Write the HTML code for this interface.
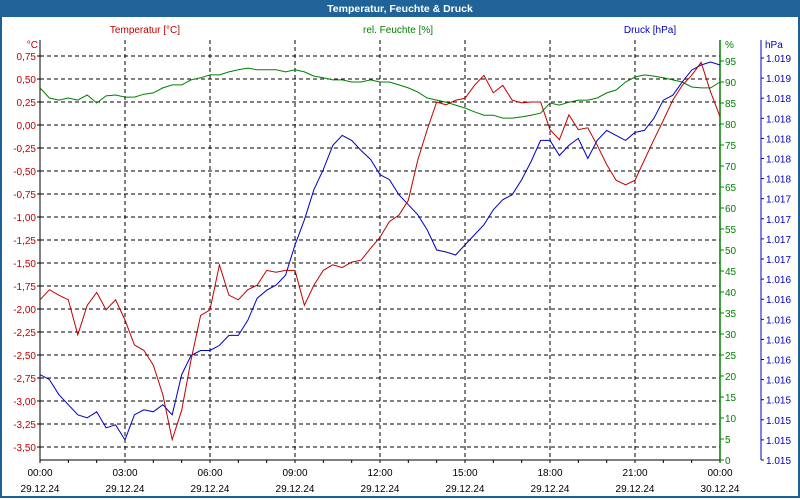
<!DOCTYPE html>
<html><head><meta charset="utf-8"><style>
body{margin:0;width:800px;height:500px;overflow:hidden;background:#fff;font-family:"Liberation Sans",sans-serif}
#frame{position:absolute;left:0;top:0;width:796px;height:496px;border:2px solid #1f5f94;border-top:none}
</style></head><body>
<div id="frame"></div>
<svg id="c" width="800" height="500" style="position:absolute;left:0;top:0" font-family="Liberation Sans, sans-serif" font-size="10">
<rect x="0" y="0" width="800" height="17" fill="#1f6399"/>
<text x="400" y="12" fill="#fff" font-weight="bold" font-size="10.5" text-anchor="middle">Temperatur, Feuchte &amp; Druck</text>
<text x="145" y="33" fill="#c00000" text-anchor="middle">Temperatur [°C]</text>
<text x="398" y="33" fill="#008000" text-anchor="middle">rel. Feuchte [%]</text>
<text x="650" y="33" fill="#0000c0" text-anchor="middle">Druck [hPa]</text>
<text x="38" y="48" fill="#c00000" text-anchor="end">°C</text>
<text x="725" y="48" fill="#008000">%</text>
<text x="765" y="48" fill="#0000c0">hPa</text>
</svg>
<script>
const hours=[];for(let i=0;i<=72;i++)hours.push(i/3);
const tempC=[-1.90,-1.79,-1.85,-1.90,-2.28,-1.96,-1.82,-2.01,-1.90,-2.12,-2.39,-2.45,-2.61,-2.93,-3.42,-3.10,-2.55,-2.07,-2.01,-1.52,-1.85,-1.90,-1.79,-1.74,-1.58,-1.60,-1.58,-1.58,-1.96,-1.74,-1.58,-1.52,-1.55,-1.49,-1.47,-1.34,-1.22,-1.05,-0.98,-0.82,-0.38,-0.05,0.25,0.22,0.27,0.29,0.43,0.54,0.35,0.43,0.27,0.24,0.25,0.25,-0.05,-0.16,0.11,-0.05,-0.03,-0.22,-0.43,-0.60,-0.65,-0.60,-0.38,-0.16,0.05,0.27,0.43,0.54,0.68,0.36,0.09];
const humidity=[88.6,86.2,85.7,86.2,85.7,86.9,85.0,86.7,86.9,86.4,86.4,87.1,87.4,88.6,89.3,89.3,90.5,91.0,91.7,91.7,92.4,92.9,93.3,92.9,92.9,92.9,92.4,92.9,92.4,91.4,91.0,90.5,90.5,90.0,90.0,90.5,90.0,90.0,89.3,88.6,87.6,86.2,85.7,85.2,84.5,83.8,82.9,82.1,82.1,81.4,81.4,81.7,82.1,82.6,85.0,84.5,85.2,85.7,85.7,86.2,87.4,88.1,90.0,91.2,91.7,91.4,91.0,90.5,90.0,88.8,88.6,88.6,90.0];
const pressure=[1015.85,1015.80,1015.65,1015.55,1015.45,1015.42,1015.48,1015.32,1015.35,1015.20,1015.45,1015.50,1015.48,1015.55,1015.45,1015.85,1016.04,1016.09,1016.09,1016.14,1016.24,1016.24,1016.39,1016.61,1016.69,1016.74,1016.84,1017.14,1017.39,1017.69,1017.89,1018.13,1018.23,1018.18,1018.08,1017.99,1017.84,1017.79,1017.64,1017.54,1017.44,1017.29,1017.09,1017.07,1017.04,1017.14,1017.24,1017.34,1017.49,1017.59,1017.64,1017.79,1017.97,1018.18,1018.18,1018.03,1018.13,1018.20,1018.00,1018.18,1018.28,1018.23,1018.18,1018.26,1018.28,1018.40,1018.58,1018.63,1018.76,1018.88,1018.93,1018.96,1018.93];
const tempTicks=[0.75,0.5,0.25,0,-0.25,-0.5,-0.75,-1,-1.25,-1.5,-1.75,-2,-2.25,-2.5,-2.75,-3,-3.25,-3.5];
const humTicks=[0,5,10,15,20,25,30,35,40,45,50,55,60,65,70,75,80,85,90,95];
const presLabels=["1.015","1.015","1.015","1.015","1.016","1.016","1.016","1.016","1.016","1.016","1.017","1.017","1.017","1.017","1.018","1.018","1.018","1.018","1.018","1.019","1.019"];
const xTimes=["00:00","03:00","06:00","09:00","12:00","15:00","18:00","21:00","00:00"];
const xDates=["29.12.24","29.12.24","29.12.24","29.12.24","29.12.24","29.12.24","29.12.24","29.12.24","30.12.24"];
const L=40,R=720,T=40,B=460;
const xS=h=>L+h*(R-L)/24;
const yT=t=>125-t*92;
const yH=h=>B-h*4.2;
const yP=p=>B-(p-1015)*100.5;
const svg=document.getElementById('c');const NS='http://www.w3.org/2000/svg';
function mk(tag,a,txt){const e=document.createElementNS(NS,tag);for(const k in a)e.setAttribute(k,a[k]);if(txt!==undefined)e.textContent=txt;svg.appendChild(e);return e;}
// grid horizontal
tempTicks.forEach(t=>{const y=yT(t);
const g=mk('line',{x1:L,x2:R,y1:y,y2:y,stroke:'#000','stroke-dasharray':'4,3','stroke-width':1});


const tx=mk('text',{x:36,y:y+4,fill:'#c00000','text-anchor':'end'},t.toFixed(2).replace('.',','));


mk('line',{x1:L-3,x2:L,y1:y,y2:y,stroke:'#000'});});
// vertical grid
for(let i=0;i<=8;i++){const x=xS(i*3);
if(i>0&&i<8){const g=mk('line',{x1:x,x2:x,y1:T,y2:B,stroke:'#000','stroke-dasharray':'4,3'});

}
const a=mk('text',{x:x,y:476,fill:'#000','text-anchor':'middle'},xTimes[i]);


const b=mk('text',{x:x,y:492,fill:'#000','text-anchor':'middle'},xDates[i]);

}
for(let h=0;h<=24;h++){const x=xS(h);mk('line',{x1:x,x2:x,y1:B,y2:B+3,stroke:'#000'});}
// axes
let ax=mk('line',{x1:L,x2:L,y1:T,y2:B,stroke:'#000'});
ax=mk('line',{x1:L,x2:R,y1:B,y2:B,stroke:'#000'});
ax=mk('line',{x1:R,x2:R,y1:T,y2:B,stroke:'#008000','stroke-width':1.5});
humTicks.forEach(h=>{const y=yH(h);mk('line',{x1:R,x2:R+4,y1:y,y2:y,stroke:'#008000'});
const t=mk('text',{x:725,y:y+4,fill:'#008000'},String(h));

});
ax=mk('line',{x1:761,x2:761,y1:T,y2:B,stroke:'#0000c0'});
presLabels.forEach((s,i)=>{const y=B-i*20.1;mk('line',{x1:761,x2:764,y1:y,y2:y,stroke:'#0000c0'});
const t=mk('text',{x:766,y:y+4,fill:'#0000c0'},s);

});
function line(vals,ys,col,name){const d=vals.map((v,i)=>(i?'L':'M')+xS(hours[i]).toFixed(1)+','+ys(v).toFixed(1)).join('');
const p=mk('path',{d:d,fill:'none',stroke:col,'stroke-width':1});

}
line(humidity,yH,'#008000','humidity-line');
line(pressure,yP,'#0000c0','pressure-line');
line(tempC,yT,'#c00000','temperature-line');
</script>
</body></html>
